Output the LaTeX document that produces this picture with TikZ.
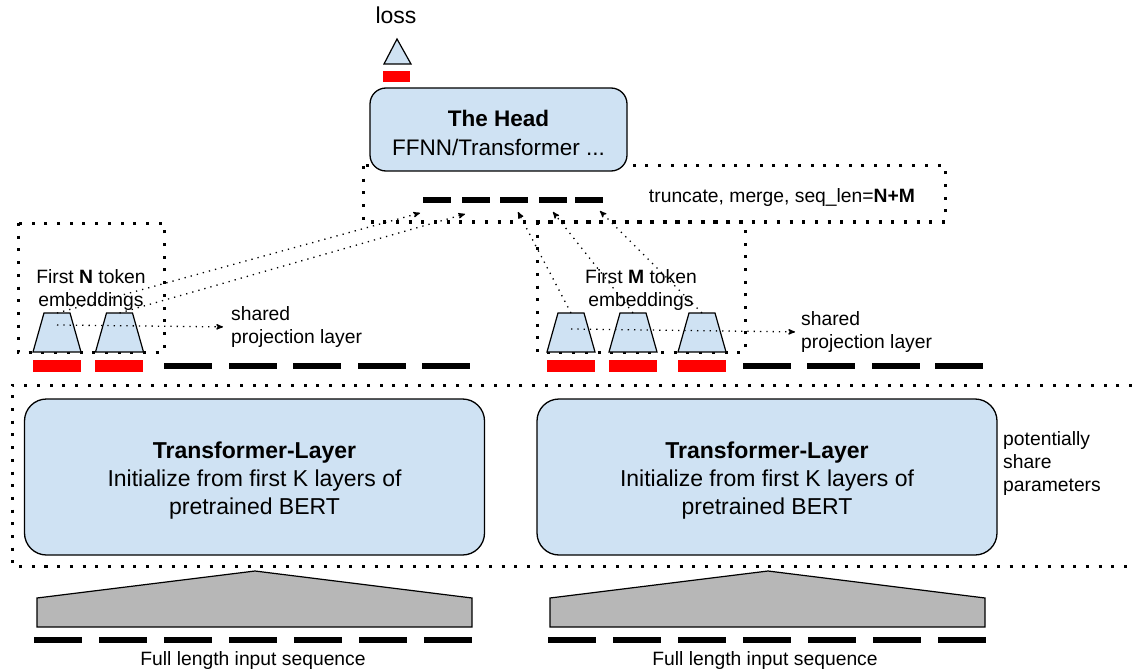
\documentclass[tikz,border=0pt]{standalone}
\usepackage{fontspec}
\setmainfont{Liberation Sans}
\usetikzlibrary{arrows}

\definecolor{boxblue}{HTML}{CFE2F3}
\definecolor{inputgray}{HTML}{B7B7B7}

\begin{document}
\begin{tikzpicture}[x=1pt,y=-1pt,>=stealth',
    small text/.style={font=\fontsize{19.3}{22.5}\selectfont,inner sep=0pt},
    big text/.style={font=\fontsize{23}{28}\selectfont,inner sep=0pt},
    layer box/.style={rectangle,rounded corners=22pt,draw,line width=1.3pt,fill=boxblue,minimum width=460pt,minimum height=156pt},
    head box/.style={rectangle,rounded corners=16pt,draw,line width=1.3pt,fill=boxblue,minimum width=257pt,minimum height=83pt},
    proj shape/.style={draw,line width=1.2pt,fill=boxblue,line join=miter},
    red token/.style={rectangle,fill=red,minimum width=48pt,minimum height=12pt,inner sep=0pt},
    black token/.style={rectangle,fill=black,minimum width=48pt,minimum height=6pt,inner sep=0pt},
    merged token/.style={black token,minimum width=28pt},
    box dots/.style={line width=3pt,dash pattern=on 3pt off 9.7pt},
    arrow dots/.style={->,line width=1.3pt,dash pattern=on 1.3pt off 5pt}]

  \useasboundingbox (0,0) rectangle (1132,671);

  % dotted frames
  \draw[box dots] (363,166) rectangle (945,222);
  \draw[box dots] (18,223) rectangle (164,352);
  \draw[box dots] (537,222) rectangle (745,352);
  \draw[box dots] (1132,385) -- (12,385) -- (12,566) -- (1132,566);

  % loss and head
  \node[big text] (loss) at (396,15) {loss};
  \draw[line width=1.2pt,fill=boxblue] (384,64) -- (397,39) -- (411,64) -- cycle;
  \node[red token,minimum width=27pt,minimum height=11pt] (losstok) at (396.5,76.5) {};
  \node[head box] (head) at (498.5,129.5) {};
  \node[align=center,font=\fontsize{22.5}{29}\selectfont,inner sep=0pt] (headtxt) at (498.5,133) {\textbf{The Head}\\FFNN/Transformer ...};

  \node[small text] (merge) at (782,198) {truncate, merge, seq\_len=\textbf{N+M}};
  \foreach \x [count=\i] in {436.5,475.5,513.5,552.5,589}
    \node[merged token] (m\i) at (\x,200) {};

  % projection layers (top centre kept as coordinate)
  \foreach \x/\n in {57/p1,119.5/p2,571/q1,633/q2,702/q3}{
    \draw[proj shape] (\x-24,352) -- (\x-13,313) -- (\x+13,313) -- (\x+24,352) -- cycle;
    \coordinate (\n) at (\x,313);
  }

  % left branch
  \node[small text,align=center] (firstN) at (91,290) {First \textbf{N} token\\embeddings};
  \node[red token] (rl1) at (57,366) {};
  \node[red token] (rl2) at (119,366) {};
  \foreach \x [count=\i] in {188,253,317,382,446}
    \node[black token] (bl\i) at (\x,366) {};
  \node[small text,align=left,anchor=west] (sharedN) at (231,327) {shared\\projection layer};

  % right branch
  \node[small text,align=center] (firstM) at (641,290) {First \textbf{M} token\\embeddings};
  \node[red token] (rr1) at (571,366) {};
  \node[red token] (rr2) at (633,366) {};
  \node[red token] (rr3) at (702,366) {};
  \foreach \x [count=\i] in {767,831,895.5,959}
    \node[black token] (br\i) at (\x,366) {};
  \node[small text,align=left,anchor=west] (sharedM) at (801,332) {shared\\projection layer};

  % transformer layers
  \node[layer box] (layerL) at (254.5,477) {};
  \node[layer box] (layerR) at (767,477) {};
  \node[big text,align=center] (layerLtxt) at (254.5,481) {\textbf{Transformer-Layer}\\Initialize from first K layers of\\pretrained BERT};
  \node[big text,align=center] (layerRtxt) at (767,481) {\textbf{Transformer-Layer}\\Initialize from first K layers of\\pretrained BERT};
  \node[small text,align=left,anchor=west,font=\fontsize{19.3}{23}\selectfont] (share) at (1003,463.5) {potentially\\share\\parameters};

  % inputs
  \draw[line width=1.2pt,fill=inputgray] (37,627) -- (37,598) -- (255,571) -- (472,598) -- (472,627) -- cycle;
  \draw[line width=1.2pt,fill=inputgray] (550,627) -- (550,598) -- (768,571) -- (985,598) -- (985,627) -- cycle;
  \foreach \i in {0,...,6}{
    \node[black token] (il\i) at (58+65*\i,640) {};
    \node[black token] (ir\i) at (572+65*\i,640) {};
  }
  \node[small text] (inL) at (253,661) {Full length input sequence};
  \node[small text] (inR) at (765,661) {Full length input sequence};

  % arrow targets
  \coordinate (in1) at (420,213);
  \coordinate (in2) at (465,214);
  \coordinate (in3) at (518,212);
  \coordinate (in4) at (553,212);
  \coordinate (in5) at (600,211);

  \path[arrow dots] ([yshift=-12pt]p1) edge[shorten >=8pt] (sharedN.west)
        (p1) edge (in1)
        (p2) edge (in2)
        ([yshift=-16pt]q1) edge[shorten >=6pt] (sharedM.west)
        (q1) edge (in3)
        (q2) edge (in4)
        (q3) edge (in5);

\end{tikzpicture}
\end{document}
